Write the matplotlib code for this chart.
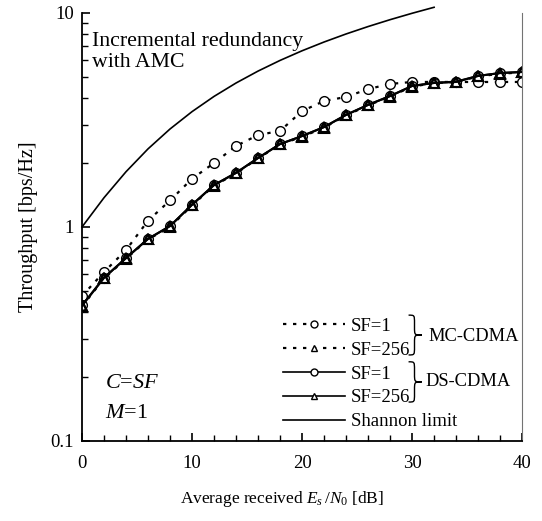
import matplotlib
matplotlib.use('Agg')
import matplotlib.pyplot as plt
from matplotlib.lines import Line2D
from matplotlib.path import Path
from matplotlib.patches import PathPatch
from matplotlib.ticker import FixedLocator, NullFormatter

plt.rcParams['font.family'] = 'Liberation Serif'
plt.rcParams['mathtext.fontset'] = 'custom'
plt.rcParams['mathtext.rm'] = 'Liberation Serif'
plt.rcParams['mathtext.it'] = 'Liberation Serif:italic'

# Es/N0 in dB
snr = [0, 2, 4, 6, 8, 10, 12, 14, 16, 18, 20, 22, 24, 26, 28, 30, 32, 34, 36, 38, 40]

# throughput values
mc_sf1 = [0.476, 0.616, 0.78, 1.07, 1.33, 1.68, 1.99, 2.39, 2.69, 2.81, 3.48, 3.88, 4.05,
          4.41, 4.66, 4.76, 4.76, 4.76, 4.76, 4.76, 4.76]
mc_sf256 = [0.425, 0.575, 0.71, 0.875, 1.0, 1.26, 1.56, 1.78, 2.09, 2.43, 2.64, 2.91, 3.32,
            3.70, 4.07, 4.53, 4.70, 4.76, 5.05, 5.20, 5.28]
ds_sf1 = [0.43, 0.58, 0.715, 0.88, 1.01, 1.27, 1.57, 1.79, 2.10, 2.44, 2.66, 2.93, 3.34,
          3.72, 4.09, 4.56, 4.71, 4.78, 5.08, 5.24, 5.30]
ds_sf256 = [0.428, 0.578, 0.716, 0.879, 1.01, 1.27, 1.57, 1.79, 2.10, 2.44, 2.66, 2.93, 3.34,
            3.72, 4.09, 4.56, 4.71, 4.76, 5.08, 5.24, 5.30]

shannon_snr = [0, 2, 4, 6, 8, 10, 12, 14, 16, 18, 20, 22, 24, 26, 28, 30, 32]
shannon = [1.0, 1.370, 1.812, 2.317, 2.870, 3.459, 4.075, 4.707, 5.351, 6.002, 6.658,
           7.317, 7.978, 8.640, 9.304, 9.967, 10.631]

labels = ['SF=1', 'SF=256', 'SF=1', 'SF=256', 'Shannon limit']
groups = ['MC-CDMA', 'DS-CDMA']


def brace(ax, x0, ytop, ybot, w):
    # thin right-pointing curly brace, axes coords
    ym = (ytop + ybot) / 2
    xm = x0 + w * 0.45
    h = ytop - ybot
    verts = [(x0, ytop),
             (xm, ytop), (xm, ytop), (xm, ytop - h * 0.2),
             (xm, ym + h * 0.2),
             (xm, ym), (xm, ym), (x0 + w, ym),
             (xm, ym), (xm, ym), (xm, ym - h * 0.2),
             (xm, ybot + h * 0.2),
             (xm, ybot), (xm, ybot), (x0, ybot)]
    codes = [Path.MOVETO,
             Path.CURVE4, Path.CURVE4, Path.CURVE4,
             Path.LINETO,
             Path.CURVE4, Path.CURVE4, Path.CURVE4,
             Path.CURVE4, Path.CURVE4, Path.CURVE4,
             Path.LINETO,
             Path.CURVE4, Path.CURVE4, Path.CURVE4]
    ax.add_patch(PathPatch(Path(verts, codes), fc='none', ec='black', lw=1.0,
                           transform=ax.transAxes, clip_on=False))


fig = plt.figure(figsize=(5.42, 5.21), dpi=100)
ax = fig.add_axes([0.1513, 0.1536, 0.812, 0.8215])

dot = (0, (1.5, 3))
ax.plot(shannon_snr, shannon, color='black', lw=1.2, clip_on=False)
ax.plot(snr, mc_sf1, color='black', ls=dot, lw=1.6, marker='o', ms=7,
        mfc='white', mec='black', mew=1.0)
ax.plot(snr, mc_sf256, color='black', ls=dot, lw=1.6, marker='^', ms=7.5,
        mfc='white', mec='black', mew=1.5)
ax.plot(snr, ds_sf1, color='black', lw=1.5, marker='o', ms=7,
        mfc='none', mec='black', mew=1.0)
ax.plot(snr, ds_sf256, color='black', lw=1.5, marker='^', ms=7.5,
        mfc='none', mec='black', mew=1.5)

ax.set_yscale('log')
ax.set_xlim(0, 40)
ax.set_ylim(0.1, 10)
ax.set_xticks([0, 10, 20, 30, 40])
ax.xaxis.set_minor_locator(FixedLocator(list(range(0, 41, 2))))
ax.set_yticks([0.1, 1, 10])
ax.set_yticklabels(['0.1', '1', '10'])
minors = [m * d for d in (0.1, 1) for m in range(2, 10)]
ax.yaxis.set_minor_locator(FixedLocator(minors))
ax.yaxis.set_minor_formatter(NullFormatter())
ax.tick_params(which='both', direction='in', top=False, right=False, labelsize=13.5)
ax.tick_params(which='major', length=6, width=1.2, pad=10)
ax.tick_params(which='minor', length=4, width=1.0)
ax.tick_params(axis='y', pad=6)

ax.spines['top'].set_visible(False)
ax.spines['right'].set_color('0.45')
ax.spines['left'].set_linewidth(1.3)
ax.spines['bottom'].set_linewidth(1.3)

ax.set_xlabel('Average received $E_s\\,/N_0$ [dB]', fontsize=12.5)
ax.xaxis.set_label_coords(0.455, -0.113)
ax.set_ylabel('Throughput [bps/Hz]', fontsize=14.5, labelpad=9)

ax.text(0.023, 0.955, 'Incremental redundancy\nwith AMC', transform=ax.transAxes,
        fontsize=15.7, va='top', ha='left', linespacing=1.15)
ax.text(0.052, 0.124, '$C$=$SF$', transform=ax.transAxes, fontsize=16, va='baseline')
ax.text(0.052, 0.054, '$M$=1', transform=ax.transAxes, fontsize=16, va='baseline')

handles = [
    Line2D([], [], color='black', ls=dot, lw=1.6, marker='o', ms=5, mfc='white', mew=1.0),
    Line2D([], [], color='black', ls=dot, lw=1.6, marker='^', ms=5, mfc='white', mew=1.0),
    Line2D([], [], color='black', lw=1.2, marker='o', ms=5, mfc='white', mew=1.0),
    Line2D([], [], color='black', lw=1.2, marker='^', ms=5, mfc='white', mew=1.0),
    Line2D([], [], color='black', lw=1.2),
]
ax.legend(handles, labels, loc='upper left', bbox_to_anchor=(0.457, 0.288),
          frameon=False, fontsize=13.5, handlelength=3.3, handletextpad=0.3,
          labelspacing=0.36, borderpad=0, borderaxespad=0)

brace(ax, 0.742, 0.294, 0.201, 0.03)
brace(ax, 0.742, 0.185, 0.091, 0.03)
ax.text(0.788, 0.245, groups[0], transform=ax.transAxes, fontsize=13.3, va='center')
ax.text(0.780, 0.140, groups[1], transform=ax.transAxes, fontsize=13.3, va='center')

fig.savefig('out.png', dpi=100)
